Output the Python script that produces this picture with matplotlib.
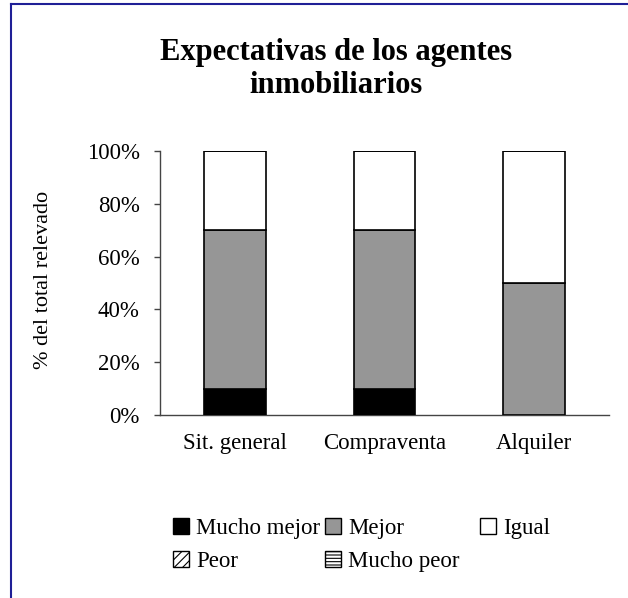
import numpy as np
import matplotlib
matplotlib.use("Agg")
import matplotlib.pyplot as plt
from matplotlib.lines import Line2D
from matplotlib.ticker import FuncFormatter

plt.rcParams['font.family'] = ['Liberation Serif', 'DejaVu Serif']
plt.rcParams['hatch.linewidth'] = 0.8

# ---------------------------------------------------------------------------
# Data
categories = ["Sit. general", "Compraventa", "Alquiler"]
series_names = ["Mucho mejor", "Mejor", "Igual", "Peor", "Mucho peor"]
mucho_mejor = [10, 10, 0]
mejor = [60, 60, 50]
igual = [30, 30, 50]
peor = [0, 0, 0]
mucho_peor = [0, 0, 0]

colors = ["#000000", "#969696", "#ffffff", "#ffffff", "#ffffff"]
hatches = [None, None, None, "////", "-----"]

W, H = 628, 598

# ---------------------------------------------------------------------------
fig = plt.figure(figsize=(W / 100, H / 100), dpi=100)
ax = fig.add_axes([160 / W, 1 - 415 / H, 449 / W, 264 / H])

x = np.arange(len(categories))
bottom = np.zeros(len(categories))
handles = []
for name, vals, col, hat in zip(series_names,
                                [mucho_mejor, mejor, igual, peor, mucho_peor],
                                colors, hatches):
    vals = np.array(vals, dtype=float)
    ax.bar(x, vals, 0.41, bottom=bottom, color=col, edgecolor="black",
           linewidth=1.2, hatch=hat, zorder=3)
    bottom += vals
    handles.append(plt.Rectangle((0, 0), 1, 1, facecolor=col, edgecolor="black",
                                 linewidth=1.0, hatch=hat))

ax.set_xlim(-0.5, len(categories) - 0.5)
ax.set_ylim(0, 100)
ax.set_yticks(np.arange(0, 101, 20))
ax.yaxis.set_major_formatter(FuncFormatter(lambda v, p: f"{int(v)}%"))
ax.set_xticks(x)
ax.set_xticklabels(categories, fontsize=16.5)
ax.tick_params(axis="y", labelsize=16.5, length=4.5, width=1, color="#444444", pad=10)
ax.tick_params(axis="x", length=0, pad=13)

for s in ["top", "right"]:
    ax.spines[s].set_visible(False)
for s in ["left", "bottom"]:
    ax.spines[s].set_color("#444444")
    ax.spines[s].set_linewidth(1.0)

ax.set_ylabel("% del total relevado", fontsize=16)
ax.yaxis.set_label_coords((53 - 160) / 449, 0.511)

fig.text(336 / W, 1 - 69 / H, "Expectativas de los agentes\ninmobiliarios",
         ha="center", va="center", fontsize=22, fontweight="bold",
         linespacing=1.2)

# legend: one column each, laid out row by row like the original
columns = [[0, 3], [1, 4], [2]]
col_x = [173, 325, 480]
for idx, cx in zip(columns, col_x):
    leg = fig.legend([handles[i] for i in idx], [series_names[i] for i in idx],
                     loc="upper left", bbox_to_anchor=(cx / W, 1 - 518 / H),
                     frameon=False, fontsize=16.5, handlelength=0.7,
                     handleheight=0.7, handletextpad=0.3, labelspacing=0.5,
                     borderpad=0, borderaxespad=0)

# blue frame (left and top only visible)
frame_col = "#1f1f96"
fig.add_artist(Line2D([11 / W, 11 / W], [0, 1 - 4 / H],
                      transform=fig.transFigure, color=frame_col, lw=1.5))
fig.add_artist(Line2D([11 / W, 1], [1 - 4 / H, 1 - 4 / H],
                      transform=fig.transFigure, color=frame_col, lw=1.5))

fig.savefig("out.png", dpi=100, facecolor="white")
